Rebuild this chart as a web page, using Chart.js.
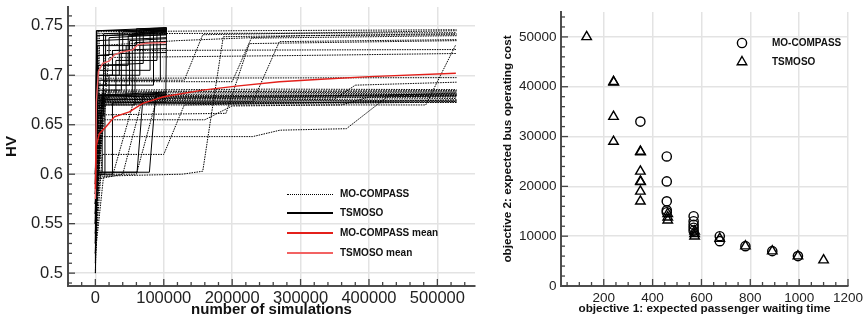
<!DOCTYPE html>
<html><head><meta charset="utf-8">
<script src="https://cdn.jsdelivr.net/npm/chart.js@4"></script>
<style>
html,body{margin:0;padding:0;background:#fff;width:863px;height:320px;overflow:hidden;font-family:"Liberation Sans",Arial,sans-serif;}
#wrapL{position:absolute;left:0;top:0;width:490px;height:320px;}
#wrapR{position:absolute;left:490px;top:0;width:373px;height:320px;}
.row{position:absolute;height:12px;line-height:12px;font-weight:bold;font-size:10px;color:#111;white-space:nowrap;display:flex;align-items:center;}
.samp{display:inline-block;width:46px;margin-right:7px;}
.mk{position:absolute;}
</style></head>
<body>
<div id="wrapL"><canvas id="cL" width="490" height="320"></canvas></div>
<div id="wrapR"><canvas id="cR" width="373" height="320"></canvas></div>

<div class="row" style="left:287px;top:188px"><span class="samp" style="height:0;border-top:1px dotted #000"></span><span>MO-COMPASS</span></div>
<div class="row" style="left:287px;top:207px"><span class="samp" style="height:1.5px;background:#000"></span><span>TSMOSO</span></div>
<div class="row" style="left:287px;top:227px"><span class="samp" style="height:2px;background:#e3201b"></span><span>MO-COMPASS mean</span></div>
<div class="row" style="left:287px;top:247px"><span class="samp" style="height:2px;background:#f26363"></span><span>TSMOSO mean</span></div>

<svg class="mk" style="left:735px;top:36px" width="14" height="14"><circle cx="7" cy="7" r="4.6" fill="none" stroke="#000" stroke-width="1.4"/></svg>
<svg class="mk" style="left:735px;top:55px" width="14" height="14"><polygon points="7,1.5 11.76,9.75 2.24,9.75" fill="none" stroke="#000" stroke-width="1.4"/></svg>
<div class="row" style="left:772px;top:37px"><span>MO-COMPASS</span></div>
<div class="row" style="left:772px;top:56px"><span>TSMOSO</span></div>

<script>
// ---------------- DATA: left panel (HV vs number of simulations) ----------------
const moCompassRuns = [
 [[0,0.52],[8000,0.676],[528000,0.679]],
 [[0,0.55],[6000,0.680],[200000,0.681],[528000,0.682]],
 [[0,0.58],[10000,0.672],[300000,0.674],[528000,0.674]],
 [[0,0.56],[12000,0.684],[528000,0.684]],
 [[0,0.59],[5000,0.675],[250000,0.677],[528000,0.678]],
 [[0,0.57],[15000,0.671],[400000,0.672],[528000,0.673]],
 [[0,0.60],[4000,0.744],[200000,0.745],[528000,0.746]],
 [[0,0.55],[6000,0.730],[120000,0.735],[300000,0.740],[528000,0.741]],
 [[0,0.51],[5000,0.598],[127000,0.600],[157000,0.603],[187000,0.739],[528000,0.742]],
 [[0,0.53],[8000,0.638],[230000,0.638],[270000,0.6445],[367000,0.646],[430000,0.680],[528000,0.682]],
 [[0,0.58],[7000,0.695],[130000,0.695],[157000,0.741],[528000,0.745]],
 [[0,0.56],[10000,0.660],[191000,0.6615],[225000,0.732],[528000,0.735]],
 [[0,0.57],[12000,0.6935],[200000,0.6935],[228000,0.7375],[528000,0.740]],
 [[0,0.59],[9000,0.673],[230000,0.673],[269000,0.734],[528000,0.736]],
 [[0,0.54],[6000,0.670],[483000,0.670],[527000,0.731]],
 [[0,0.60],[5000,0.697],[528000,0.6976]],
 [[0,0.58],[20000,0.718],[300000,0.720],[528000,0.722]],
 [[0,0.57],[15000,0.725],[528000,0.726]],
 [[0,0.52],[10000,0.620],[100000,0.620],[130000,0.670],[528000,0.675]],
 [[0,0.55],[8000,0.655],[160000,0.655],[200000,0.669],[360000,0.670],[400000,0.678],[528000,0.679]],
 [[0,0.56],[8000,0.600],[60000,0.600],[90000,0.677],[528000,0.680]],
 [[0,0.59],[12000,0.682],[528000,0.683]],
 [[0,0.60],[7000,0.678],[528000,0.680]],
 [[0,0.58],[10000,0.676],[350000,0.676],[380000,0.690],[528000,0.693]],
 [[0,0.50],[3000,0.595],[40000,0.600],[70000,0.679],[528000,0.681]],
 [[0,0.57],[6000,0.674],[528000,0.6765]],
 [[0,0.53],[9000,0.677],[150000,0.678],[528000,0.681]],
 [[0,0.56],[11000,0.679],[528000,0.6795]],
 [[0,0.58],[7000,0.6735],[420000,0.6745],[528000,0.675]],
 [[0,0.55],[14000,0.683],[528000,0.6845]],
 [[0,0.57],[9000,0.6725],[528000,0.6725]],
 [[0,0.59],[6000,0.742],[528000,0.743]],
 [[0,0.54],[10000,0.685],[260000,0.686],[528000,0.6855]],
 [[0,0.52],[12000,0.598],[25000,0.598],[55000,0.671],[528000,0.6735]]
];
const tsmosoRuns = [
 [[0,0.51],[2000,0.745],[104000,0.748]],
 [[0,0.55],[2500,0.700],[35000,0.700],[35000,0.745],[104000,0.747]],
 [[0,0.58],[3000,0.680],[54000,0.680],[54000,0.742],[104000,0.744]],
 [[0,0.52],[2000,0.602],[61000,0.602],[70000,0.681],[104000,0.682]],
 [[0,0.60],[3000,0.720],[20000,0.720],[20000,0.738],[104000,0.741]],
 [[0,0.57],[2000,0.602],[79000,0.602],[88000,0.679],[104000,0.680]],
 [[0,0.54],[2500,0.675],[45000,0.676],[45000,0.730],[104000,0.731]],
 [[0,0.59],[1500,0.745],[104000,0.746]],
 [[0,0.56],[2000,0.690],[15000,0.690],[15000,0.740],[104000,0.743]],
 [[0,0.58],[4000,0.710],[70000,0.712],[70000,0.745],[104000,0.746]],
 [[0,0.53],[2000,0.679],[104000,0.681]],
 [[0,0.60],[3000,0.700],[25000,0.700],[25000,0.725],[104000,0.727]],
 [[0,0.57],[2500,0.680],[30000,0.680],[30000,0.715],[90000,0.715],[90000,0.745],[104000,0.746]],
 [[0,0.55],[2000,0.740],[104000,0.742]],
 [[0,0.59],[3000,0.730],[60000,0.730],[60000,0.747],[104000,0.748]],
 [[0,0.50],[2500,0.602],[10000,0.602],[10000,0.680],[104000,0.683]],
 [[0,0.56],[2000,0.720],[40000,0.722],[40000,0.744],[104000,0.745]],
 [[0,0.58],[3000,0.690],[50000,0.690],[50000,0.735],[104000,0.737]],
 [[0,0.54],[2000,0.705],[80000,0.705],[80000,0.744],[104000,0.745]],
 [[0,0.60],[2000,0.745],[104000,0.745]],
 [[0,0.57],[2500,0.678],[104000,0.679]],
 [[0,0.52],[3000,0.660],[12000,0.660],[12000,0.742],[104000,0.744]],
 [[0,0.55],[2000,0.680],[103000,0.680],[104000,0.748]],
 [[0,0.53],[2000,0.677],[20000,0.677],[20000,0.700],[65000,0.700],[65000,0.746],[104000,0.747]],
 [[0,0.58],[2500,0.600],[14000,0.600],[14000,0.675],[104000,0.676]],
 [[0,0.56],[3000,0.710],[48000,0.710],[48000,0.740],[104000,0.741]],
 [[0,0.59],[2000,0.735],[104000,0.738]],
 [[0,0.55],[2000,0.690],[85000,0.690],[85000,0.747],[104000,0.748]],
 [[0,0.56],[2000,0.600],[25000,0.600],[25000,0.672],[104000,0.673]],
 [[0,0.58],[2500,0.685],[38000,0.685],[38000,0.722],[104000,0.723]],
 [[0,0.53],[2000,0.670],[58000,0.670],[58000,0.733],[104000,0.734]],
 [[0,0.57],[3000,0.695],[95000,0.695],[95000,0.743],[104000,0.744]]
];
const moCompassMean = [[0,0.585],[1000,0.6276],[5800,0.641],[15600,0.648],[27800,0.658],[49700,0.663],[69200,0.6716],[98500,0.678],[108000,0.6793],[157000,0.685],[206000,0.689],[269000,0.6935],[330000,0.696],[401000,0.6986],[527000,0.702]];
const tsmosoMean = [[0,0.575],[1500,0.673],[4400,0.7037],[10700,0.712],[20500,0.7145],[27800,0.7206],[37600,0.7233],[54500,0.7257],[61800,0.7307],[74100,0.7324],[103400,0.733]];

// ---------------- DATA: right panel (Pareto fronts) ----------------
const moCompassFront = [[350,33000],[458,26000],[458,21000],[458,17000],[458,15200],[458,14800],[568,14000],[568,13000],[568,12300],[568,11700],[568,11100],[675,10000],[675,9000],[780,8000],[890,7000],[995,6000]];
const tsmosoFront = [[130,50000],[240,41000],[241,40900],[240,34000],[240,29000],[350,27000],[351,26900],[350,23000],[350,21000],[351,20900],[350,19000],[350,17000],[462,14500],[462,13800],[462,13200],[572,11000],[572,10500],[572,10000],[675,9500],[780,8000],[890,7000],[995,6000],[1100,5200]];

// axis ranges and tick spacing
const leftX = {min:-40000, max:555000, major:100000, minor:20000};
const leftY = {min:0.487, max:0.769, major:0.05, minor:0.01};
const rightX = {min:25, max:1200, major:200, minor:50};
const rightY = {min:0, max:55000, major:10000, minor:2000};

Chart.defaults.font.family = '"Liberation Sans", Arial, Helvetica, sans-serif';
Chart.defaults.color = '#222';

function stepValues(min, max, step) {
  const out = [];
  const s = Math.ceil(min / step - 1e-9), e = Math.floor(max / step + 1e-9);
  for (let i = s; i <= e; i++) out.push(Math.round(i * step * 1e6) / 1e6);
  return out;
}

const tickMarks = {
  id:'tickMarks',
  afterDraw(chart){
    const o = chart.options.plugins.tickMarks;
    const ctx = chart.ctx, a = chart.chartArea;
    ctx.save();
    ctx.strokeStyle = '#444';
    ctx.lineWidth = 1.3;
    const draw = (scale, cfg, horiz) => {
      stepValues(scale.min, scale.max, cfg.minor).forEach(v => {
        const r = v / cfg.major;
        const isMajor = Math.abs(r - Math.round(r)) < 1e-6;
        const len = isMajor ? 7 : 4;
        const p = scale.getPixelForValue(v);
        ctx.beginPath();
        if (horiz) { ctx.moveTo(p, a.bottom); ctx.lineTo(p, a.bottom - len); }
        else { ctx.moveTo(a.left, p); ctx.lineTo(a.left + len, p); }
        ctx.stroke();
      });
    };
    draw(chart.scales.x, o.x, true);
    draw(chart.scales.y, o.y, false);
    ctx.restore();
  }
};

function axis(cfg, o) {
  return {
    type:'linear', min:cfg.min, max:cfg.max,
    afterBuildTicks: s => { s.ticks = stepValues(cfg.min, cfg.max, cfg.major).map(v => ({value:v})); },
    ticks:{autoSkip:false, maxRotation:0, minRotation:0,
      padding:o.pad, font:{size:o.fs}, color:'#222', callback:o.cb},
    grid:{color:'#e3e3e3', lineWidth:1.5, drawTicks:false},
    border:{color:'#4d4d4d', width:2},
    title:{display:true, text:o.title, color:'#111', font:{size:o.tfs, weight:'bold'}, padding:o.tpad},
    afterFit:o.fit
  };
}

// ---------- Left chart ----------
const dsL = [];
dsL.push({label:'MO-COMPASS mean', data:moCompassMean, borderColor:'#e3201b', borderWidth:1.4, order:0});
dsL.push({label:'TSMOSO mean', data:tsmosoMean, borderColor:'#f26363', borderWidth:1.4, order:0});
tsmosoRuns.forEach(r => dsL.push({label:'TSMOSO', data:r, borderColor:'#000', borderWidth:1, order:1}));
moCompassRuns.forEach(r => dsL.push({label:'MO-COMPASS', data:r, borderColor:'#000', borderWidth:1, borderDash:[1.5,1], order:2}));

new Chart(document.getElementById('cL'), {
  type:'line',
  data:{datasets:dsL},
  options:{
    responsive:false, animation:false, devicePixelRatio:1,
    elements:{point:{radius:0}, line:{tension:0, fill:false}},
    layout:{padding:{left:0, right:15, top:7, bottom:0}},
    plugins:{legend:{display:false}, tooltip:{enabled:false}, tickMarks:{x:leftX, y:leftY}},
    scales:{
      x:axis(leftX, {pad:3, fs:16.5, tfs:15, title:'number of simulations', tpad:{top:0,bottom:1},
        cb:v=>String(v), fit:s=>{s.height=34; s.paddingLeft=0; s.paddingRight=0;}}),
      y:axis(leftY, {pad:5, fs:16.5, tfs:15, title:'HV', tpad:{top:3,bottom:0},
        cb:v=>String(Math.round(v*100)/100), fit:s=>{s.width=68; s.paddingTop=0; s.paddingBottom=0;}})
    }
  },
  plugins:[tickMarks]
});

// ---------- Right chart ----------
new Chart(document.getElementById('cR'), {
  type:'scatter',
  data:{datasets:[
    {label:'MO-COMPASS', data:moCompassFront, pointStyle:'circle', pointRadius:4.6, borderColor:'#000', backgroundColor:'rgba(0,0,0,0)', borderWidth:1.4},
    {label:'TSMOSO', data:tsmosoFront, pointStyle:'triangle', pointRadius:5.5, borderColor:'#000', backgroundColor:'rgba(0,0,0,0)', borderWidth:1.4}
  ]},
  options:{
    responsive:false, animation:false, devicePixelRatio:1,
    layout:{padding:{left:0, right:15, top:12, bottom:0}},
    plugins:{legend:{display:false}, tooltip:{enabled:false}, tickMarks:{x:rightX, y:rightY}},
    scales:{
      x:axis(rightX, {pad:4, fs:13.5, tfs:11.75, title:'objective 1: expected passenger waiting time', tpad:{top:0,bottom:4},
        cb:v=>String(v), fit:s=>{s.height=34; s.paddingLeft=0; s.paddingRight=0;}}),
      y:axis(rightY, {pad:4.5, fs:13.5, tfs:11.75, title:'objective 2: expected bus operating cost', tpad:{top:11,bottom:0},
        cb:v=>String(v), fit:s=>{s.width=71; s.paddingTop=0; s.paddingBottom=0;}})
    }
  },
  plugins:[tickMarks]
});
</script>
</body></html>
